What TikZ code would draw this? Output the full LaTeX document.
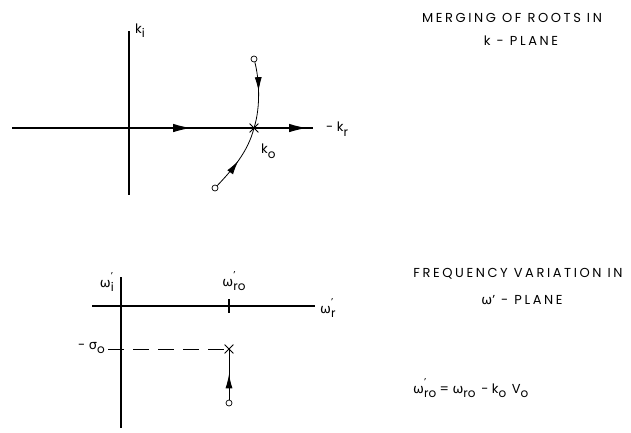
\documentclass[tikz,border=0pt]{standalone}
\usepackage{fontspec}
\setmainfont{Poppins}
\newfontfamily\grk{DejaVu Sans}
\usepackage{tikz}
\usetikzlibrary{arrows.meta,decorations.markings,shapes.misc}

% 下标与上撇号
\newcommand{\lo}[1]{\raisebox{-4.5pt}{\fontsize{12}{13}\selectfont #1}}
\newcommand{\sps}[1]{\rlap{\raisebox{8pt}{\fontsize{10}{11}\selectfont '}}\raisebox{-4.5pt}{\fontsize{12}{13}\selectfont #1}}

\begin{document}
\begin{tikzpicture}[x=1pt,y=-1pt,
    axis/.style={line width=1.1pt},
    tip/.style={-{Latex[length=18pt,width=8.5pt]}},
    midarrow/.style={postaction={decorate},decoration={markings,
        mark=at position #1 with {\arrow{Latex[length=14pt,width=7pt]}}}},
    root/.style={circle,draw,line width=0.7pt,inner sep=0pt,minimum size=6pt,fill=white},
    xmark/.style={cross out,draw,line width=0.8pt,inner sep=0pt,minimum size=8pt},
    lbl/.style={inner sep=1pt,font=\fontsize{13}{15}\selectfont},
    title/.style={inner sep=1pt,font=\fontsize{13}{15}\selectfont\addfontfeature{LetterSpace=20}}]
    \useasboundingbox (0,0) rectangle (631,432);

    % k 平面坐标轴
    \draw[axis] (12,128) -- (313,128);
    \draw[axis] (129,31) -- (129,195);
    \draw[axis, tip] (168,128) -- (191,128);
    \draw[axis, tip] (283,128) -- (307,128);
    \node[lbl, anchor=south west] (ki) at (134,39) {k\lo{i}};
    \node[lbl, anchor=west] (kr) at (325,129) {- k\lo{r}};

    % 根的汇合
    \node[xmark] (ko) at (254,128) {};
    \node[root] (r1) at (254,59) {};
    \node[root] (r2) at (215,188) {};
    \draw[thick, midarrow=0.44] (r1) .. controls (259,78) and (261,106) .. (ko.center);
    \draw[thick, midarrow=0.47] (r2) .. controls (232,170) and (248,152) .. (ko.center);
    \node[lbl, anchor=west] (kol) at (260,151) {k\lo{o}};

    % 文字说明 (上)
    \node[title] (t1) at (512,18) {MERGING OF ROOTS IN};
    \node[title] (t2) at (521,41) {k - PLANE};

    % ω' 平面坐标轴
    \draw[axis] (92,306) -- (315,306);
    \draw[axis] (121,277) -- (121,428);
    \draw[axis] (229,299) -- (229,313);
    \node[lbl, anchor=east] (wi) at (115,282) {{\grk ω}\sps{i}};
    \node[lbl] (wro) at (234,281) {{\grk ω}\sps{ro}};
    \node[lbl, anchor=west] (wr) at (319,308) {{\grk ω}\sps{r}};

    % 频率变化
    \node[xmark] (xo) at (229,349) {};
    \node[root] (r3) at (229,403) {};
    \draw[line width=0.9pt, dash pattern=on 16pt off 9pt] (108,349) -- (xo.center);
    \draw[thick, midarrow=0.5] (r3) -- (xo.center);
    \node[lbl, anchor=east] (so) at (106,348) {- {\grk σ}\lo{o}};

    % 文字说明 (下)
    \node[title] (t3) at (518,274) {FREQUENCY VARIATION IN};
    \node[title] (t4) at (522,300) {{\grk ω}' - PLANE};
    \node[lbl, anchor=west] (eq) at (412,388) {{\grk ω}\sps{ro} = {\grk ω}\lo{ro}\, - k\lo{o}\, V\lo{o}};
\end{tikzpicture}
\end{document}
